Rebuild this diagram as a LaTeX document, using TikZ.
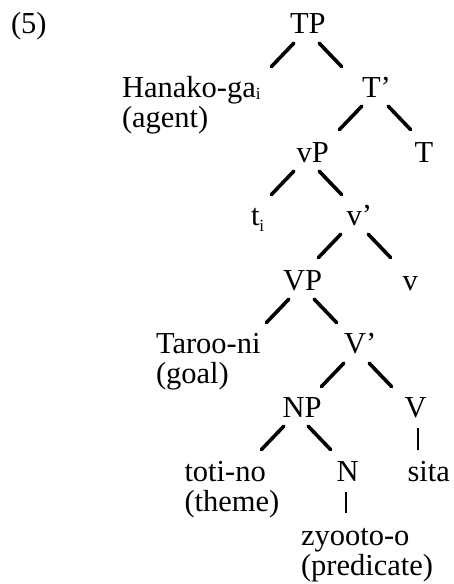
\documentclass[tikz,border=0pt]{standalone}
\usepackage{fontspec}
\setmainfont{Liberation Serif}
\usetikzlibrary{calc}
\newcommand\lsub[2][2]{\raisebox{-#1pt}{\fontsize{17}{17}\selectfont #2}}
\begin{document}
\begin{tikzpicture}[x=1pt,y=-1pt,
  every node/.style={inner sep=0pt, outer sep=0pt, anchor=base west,
    font=\fontsize{30.5}{30.5}\selectfont, align=left},
  br/.style={line width=3.6pt, line cap=round},
  bar/.style={line width=2pt}]
\useasboundingbox (0,0) rectangle (454,584);
% labels (multi-line nodes: base = last line)
\node (ex) at (11,33) {(5)};
\node (TP) at (290,33) {TP};
\node (Hanako) at (122,127.5) {Hanako-ga\lsub[2]{i}\\(agent)};
\node (Tbar) at (362,97) {T’};
\node (vP) at (296.5,162) {vP};
\node (T) at (414.5,162) {T};
\node (ti) at (251,225) {t\lsub[6]{i}};
\node (vbar) at (346.5,225) {v’};
\node (VP) at (283,290) {VP};
\node (v) at (402.5,290) {v};
\node (Taroo) at (156,383.5) {Taroo-ni\\(goal)};
\node (Vbar) at (344,353) {V’};
\node (NP) at (282.5,417) {NP};
\node (V) at (404.5,417) {V};
\node (toti) at (184.5,511.5) {toti-no\\(theme)};
\node (N) at (336.5,481) {N};
\node (sita) at (407.5,481) {sita};
\node (zyooto) at (301,575.5) {zyooto-o\\(predicate)};
% branches
\draw[br] ($(TP.base west)+(3.8,10.2)$) -- ++(-22.5,23.5);
\draw[br] ($(TP.base west)+(29.2,10.2)$) -- ++(22.5,23.5);
\draw[br] ($(Tbar.base west)+(-0.2,9.2)$) -- ++(-22.5,23.5);
\draw[br] ($(Tbar.base west)+(26.2,9.2)$) -- ++(22.5,23.5);
\draw[br] ($(vP.base west)+(-2.7,9.2)$) -- ++(-22.5,23.5);
\draw[br] ($(vP.base west)+(22.7,9.2)$) -- ++(22.5,23.5);
\draw[br] ($(vbar.base west)+(-5.7,9.2)$) -- ++(-22.5,23.5);
\draw[br] ($(vbar.base west)+(21.7,9.2)$) -- ++(22.5,23.5);
\draw[br] ($(VP.base west)+(5.8,9.2)$) -- ++(-22.5,23.5);
\draw[br] ($(VP.base west)+(31.2,9.2)$) -- ++(22.5,23.5);
\draw[br] ($(Vbar.base west)+(-0.2,10.2)$) -- ++(-22.5,23.5);
\draw[br] ($(Vbar.base west)+(25.2,10.2)$) -- ++(22.5,23.5);
\draw[br] ($(NP.base west)+(1.3,9.2)$) -- ++(-22.5,23.5);
\draw[br] ($(NP.base west)+(25.7,9.2)$) -- ++(22.5,23.5);
\draw[bar] ($(V.base west)+(13.5,11)$) -- ++(0,22);
\draw[bar] ($(N.base west)+(9.5,11)$) -- ++(0,21);
\end{tikzpicture}
\end{document}
